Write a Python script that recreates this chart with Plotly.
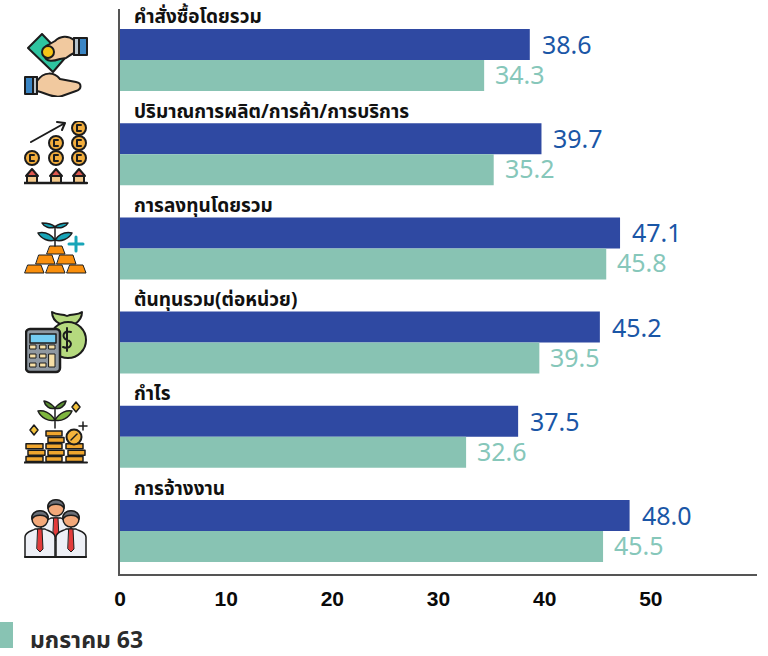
import base64

import plotly.graph_objects as go

categories = [
    "คำสั่งซื้อโดยรวม",
    "ปริมาณการผลิต/การค้า/การบริการ",
    "การลงทุนโดยรวม",
    "ต้นทุนรวม(ต่อหน่วย)",
    "กำไร",
    "การจ้างงาน",
]
series_blue = [38.6, 39.7, 47.1, 45.2, 37.5, 48.0]
series_green = [34.3, 35.2, 45.8, 39.5, 32.6, 45.5]
x_ticks = [0, 10, 20, 30, 40, 50, 60]
legend_label = "มกราคม 63"

BLUE = "#2f49a2"
GREEN = "#88c3b3"
BLUE_TEXT = "#1a56a6"
GREEN_TEXT = "#86c7ba"
FONT = "'Noto Sans Thai', 'Noto Sans', sans-serif"
DARK = "#1c1c1c"

# plot area in page pixels
LEFT, RIGHT, TOP, BOTTOM = 120, 757, 9, 574


def px_x(px):
    return (px - LEFT) / (RIGHT - LEFT)


def px_y(py):
    return (BOTTOM - py) / (BOTTOM - TOP)


def svg_uri(body, w=64, h=64):
    svg = (
        f'<svg xmlns="http://www.w3.org/2000/svg" width="{w}" height="{h}" '
        f'viewBox="0 0 {w} {h}"><g stroke="{DARK}" stroke-width="2" '
        f'stroke-linejoin="round" stroke-linecap="round">{body}</g></svg>'
    )
    return "data:image/svg+xml;base64," + base64.b64encode(svg.encode()).decode()


def hands_icon():
    skin = "#f1c99f"
    return (
        '<polygon points="4,15 18,1 41,25 29,39" fill="#2ec4a0"/>'
        f'<path d="M50 7 C44 2 36 3 31 8 L24 12 C19 14 22 19 28 17 L20 22 C22 30 30 28 36 26 '
        f'L42 25 C46 22 50 20 50 20 Z" fill="{skin}"/>'
        '<circle cx="24" cy="19" r="6" fill="#f5c518"/>'
        '<rect x="50" y="5" width="13" height="17" fill="#3a85c4"/>'
        '<rect x="50" y="5" width="5" height="17" fill="#b8c4cc"/>'
        f'<path d="M13 48 C20 38 30 39 36 46 L52 49 C58 50 58 56 52 58 L38 63 C30 66 22 60 13 58 Z" fill="{skin}"/>'
        '<rect x="1" y="44" width="12" height="17" fill="#3a85c4"/>'
        '<rect x="9" y="44" width="4" height="17" fill="#b8c4cc"/>'
    )


def coins_icon():
    out = '<path d="M7 21 L41 2 M33 1 L41 2 L38 9" fill="none"/>'
    for cx, cy in [(8, 37), (32, 22), (32, 37), (55, 7), (55, 22), (55, 37)]:
        out += f'<circle cx="{cx}" cy="{cy}" r="7" fill="#f3ae3d"/>'
        out += f'<path d="M{cx + 2} {cy - 3} H{cx - 2} V{cy + 3} H{cx + 2}" fill="none"/>'
    for cx in (8, 32, 55):
        out += f'<rect x="{cx - 5}" y="54" width="10" height="8" fill="#f3c98b"/>'
        out += f'<polygon points="{cx - 6},55 {cx},48 {cx + 6},55" fill="#e0584f"/>'
    out += '<path d="M0 62 H63" fill="none" stroke-width="2.5"/>'
    return out


def gold_icon():
    orange = "#fa8f0c"
    out = ""
    bars = [(23, 41, 24, 32), (12, 31, 33, 42), (33, 52, 33, 42), (1, 20, 43, 51), (22, 41, 43, 51), (43, 62, 43, 51)]
    for x0, x1, y0, y1 in bars:
        out += f'<polygon points="{x0 + 3},{y0} {x1 - 3},{y0} {x1},{y1} {x0},{y1}" fill="{orange}" stroke-width="1"/>'
    out += (
        '<path d="M31 24 V4" fill="none" stroke-width="1.5"/>'
        '<path d="M31 5 C27 1 21 1 18 1 C20 5 26 7 31 5 Z" fill="#18a5b8" stroke-width="1.5"/>'
        '<path d="M31 5 C35 1 41 1 44 1 C42 5 36 7 31 5 Z" fill="#18a5b8" stroke-width="1.5"/>'
        '<path d="M31 18 C26 11 19 10 14 11 C17 17 25 20 31 18 Z" fill="#18a5b8" stroke-width="1.5"/>'
        '<path d="M31 18 C36 11 43 10 48 11 C45 17 37 20 31 18 Z" fill="#18a5b8" stroke-width="1.5"/>'
        '<path d="M52 15 V29 M45 22 H59" fill="none" stroke="#18a5b8" stroke-width="3"/>'
    )
    return out


def calc_icon():
    out = (
        '<path d="M27 2 C33 6 37 3 42 6 C47 3 52 6 57 2 C57 8 53 12 50 14 L35 14 C31 12 27 8 27 2 Z" fill="#b5d97e"/>'
        '<circle cx="43" cy="30" r="18" fill="#b5d97e"/>'
        '<path d="M46 22 C38 19 36 28 42 30 C49 32 46 40 38 37 M42 18 V41" fill="none"/>'
        '<rect x="1" y="19" width="34" height="43" rx="4" fill="#8f98a1" stroke-width="2.5"/>'
        '<rect x="5" y="24" width="26" height="9" fill="#74cdf2" stroke-width="1.5"/>'
    )
    for cy in (37, 46, 55):
        for cx in (8, 18, 27):
            if cx == 27 and cy > 37:
                continue
            out += f'<rect x="{cx - 3}" y="{cy - 2}" width="6" height="4" fill="#f6dfa6" stroke-width="1"/>'
    out += '<rect x="24" y="44" width="6" height="13" fill="#f6dfa6" stroke-width="1"/>'
    return out


def stack_icon():
    out = ""
    for x0, w, n in [(3, 17, 3), (23, 16, 5), (43, 17, 3)]:
        for i in range(n):
            y = 62 - 6.4 * (i + 1) + 1
            shift = 1 if i % 2 else -1
            out += f'<rect x="{x0 + shift}" y="{y}" width="{w}" height="5" fill="#f0a62e" stroke-width="1.5"/>'
    out += (
        '<circle cx="50" cy="37" r="7.5" fill="#f5b53c"/>'
        '<path d="M47 40 L53 34" fill="none" stroke-width="1.5"/>'
        '<path d="M31 8 V28" fill="none" stroke-width="1.5"/>'
        '<path d="M31 8 C27 3 22 1 20 1 C21 6 26 10 31 8 Z" fill="#5b8f32" stroke-width="1.5"/>'
        '<path d="M31 8 C35 3 40 1 42 1 C41 6 36 10 31 8 Z" fill="#5b8f32" stroke-width="1.5"/>'
        '<path d="M31 20 C26 12 19 10 14 11 C17 18 25 22 31 20 Z" fill="#7fb63f" stroke-width="1.5"/>'
        '<path d="M31 20 C36 12 43 10 48 11 C45 18 37 22 31 20 Z" fill="#7fb63f" stroke-width="1.5"/>'
        '<polygon points="52,2 56,7 52,12 48,7" fill="#f3c23c" stroke-width="1.5"/>'
        '<polygon points="10,25 14,30 10,35 6,30" fill="#f3c23c" stroke-width="1.5"/>'
        '<path d="M59 22 V30 M55 26 H63" fill="none" stroke-width="1.5"/>'
        '<path d="M0 62.5 H63" fill="none" stroke-width="2"/>'
    )
    return out


def people_icon():
    out = ""
    for cx, cy, bottom in [(32, 10, 40), (16, 21, 59), (47, 21, 59)]:
        out += (
            f'<path d="M{cx - 15} {bottom} V{cy + 18} C{cx - 15} {cy + 13} {cx - 8} {cy + 12} {cx - 5} {cy + 10} '
            f'H{cx + 5} C{cx + 8} {cy + 12} {cx + 15} {cy + 13} {cx + 15} {cy + 18} V{bottom} Z" '
            'fill="#eef0f6" stroke-width="1.5"/>'
            f'<polygon points="{cx - 2},{cy + 10} {cx + 2},{cy + 10} {cx + 3},{cy + 30} {cx},{cy + 33} {cx - 3},{cy + 30}" '
            'fill="#e23b3b" stroke-width="1"/>'
            f'<circle cx="{cx}" cy="{cy}" r="8" fill="#f3a97a" stroke-width="1.5"/>'
            f'<path d="M{cx - 8} {cy} C{cx - 10} {cy - 11} {cx + 10} {cy - 11} {cx + 8} {cy} '
            f'C{cx + 5} {cy - 5} {cx - 5} {cy - 5} {cx - 8} {cy} Z" fill="#6a6e76" stroke-width="1.5"/>'
        )
    out += '<path d="M1 59 H62" fill="none" stroke-width="2"/>'
    return out


# icon builder, left, top in page pixels
icons = [
    (hands_icon, 24, 33),
    (coins_icon, 24, 121),
    (gold_icon, 24, 222),
    (calc_icon, 25, 310),
    (stack_icon, 24, 400),
    (people_icon, 24, 498),
]

fig = go.Figure()
fig.add_trace(
    go.Bar(y=categories, x=series_blue, orientation="h", marker={"color": BLUE, "line": {"width": 0}}, showlegend=False)
)
fig.add_trace(
    go.Bar(y=categories, x=series_green, orientation="h", marker={"color": GREEN, "line": {"width": 0}}, showlegend=False)
)

annotations = []
for cat, b, g in zip(categories, series_blue, series_green):
    annotations.append(
        dict(x=b, y=cat, text=f"{b:.1f}", xanchor="left", yanchor="middle", xshift=10, yshift=14,
             showarrow=False, font={"family": FONT, "size": 25, "color": BLUE_TEXT})
    )
    annotations.append(
        dict(x=g, y=cat, text=f"{g:.1f}", xanchor="left", yanchor="middle", xshift=9, yshift=-16,
             showarrow=False, font={"family": FONT, "size": 25, "color": GREEN_TEXT})
    )
    annotations.append(
        dict(x=0, y=cat, text=f"<b>{cat}</b>", xanchor="left", yanchor="middle", xshift=12, yshift=42,
             showarrow=False, font={"family": FONT, "size": 19, "color": "#111111"})
    )

annotations.append(
    dict(xref="paper", yref="paper", x=px_x(28), y=px_y(641), text=f"<b>{legend_label}</b>",
         xanchor="left", yanchor="middle", showarrow=False, font={"family": FONT, "size": 23, "color": "#2b2b2b"})
)

images = [
    dict(source=svg_uri(build()), xref="paper", yref="paper", x=px_x(left), y=px_y(top),
         sizex=64 / (RIGHT - LEFT), sizey=64 / (BOTTOM - TOP), xanchor="left", yanchor="top",
         sizing="contain", layer="above")
    for build, left, top in icons
]

fig.update_layout(
    width=768,
    height=656,
    margin={"l": LEFT, "r": 768 - RIGHT, "t": TOP, "b": 656 - BOTTOM, "pad": 0, "autoexpand": False},
    paper_bgcolor="white",
    plot_bgcolor="white",
    barmode="group",
    bargap=0.342,
    bargroupgap=0,
    annotations=annotations,
    images=images,
    shapes=[
        dict(type="rect", xref="paper", yref="paper", x0=px_x(0), x1=px_x(13), y0=px_y(622), y1=px_y(648),
             fillcolor=GREEN, line={"width": 0})
    ],
    xaxis={
        "range": [0, 60],
        "tickvals": x_ticks,
        "automargin": False,
        "showgrid": False,
        "zeroline": False,
        "showline": True,
        "linecolor": "#555555",
        "linewidth": 1.5,
        "ticks": "",
        "ticklabelstandoff": 5,
        "tickfont": {"family": "Liberation Sans", "size": 21, "color": "#0a0a0a", "weight": "bold"},
        "layer": "below traces",
    },
    yaxis={
        # first and last categories don't sit evenly in the frame
        "range": [5.456, -0.541],
        "automargin": False,
        "showticklabels": False,
        "showgrid": False,
        "zeroline": False,
        "showline": True,
        "linecolor": "#555555",
        "linewidth": 1.5,
        "ticks": "",
        "layer": "below traces",
    },
)

fig.write_html(
    "out.html",
    config={"displayModeBar": False},
    post_script="document.body.style.margin='0';",
)
